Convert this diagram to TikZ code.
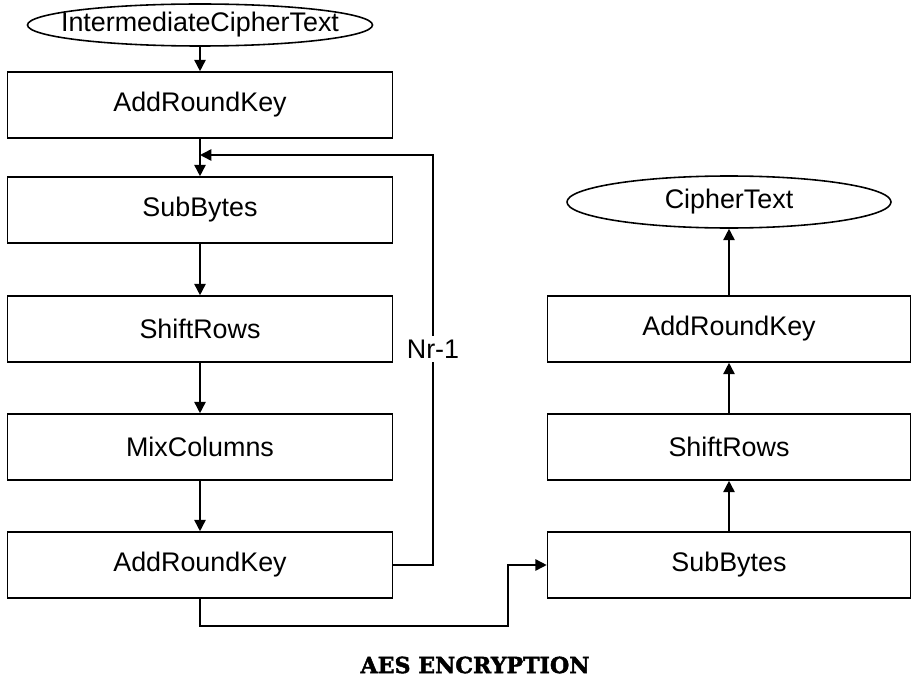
\documentclass[tikz,border=0pt]{standalone}
\usepackage{fontspec}
\setmainfont{Liberation Sans}
\newfontfamily\titlefont{DejaVu Serif Bold}[FakeBold=2]
\usetikzlibrary{arrows.meta,shapes.geometric}

\begin{document}
\begin{tikzpicture}[x=0.02cm,y=-0.02cm,line width=0.9pt,
  >={Triangle[length=6.5pt,width=6.5pt]},
  font=\fontsize{15.3}{18}\selectfont,
  lbox/.style={draw,rectangle,inner sep=0pt,minimum width=385*0.02cm,minimum height=66*0.02cm},
  rbox/.style={draw,rectangle,inner sep=0pt,minimum width=363*0.02cm,minimum height=66*0.02cm},
  term/.style={draw,ellipse,inner sep=0pt,minimum height=42*0.02cm}]
\useasboundingbox (0,0) rectangle (911,682);
% first round and the repeated rounds
\node[term,minimum width=345*0.02cm] (in) at (200,25) {\makebox[0pt]{IntermediateCipherText}};
\node[lbox] (ark0) at (200,105) {AddRoundKey};
\node[lbox] (sb) at (200,210) {SubBytes};
\node[lbox] (sr) at (200,329) {ShiftRows};
\node[lbox] (mc) at (200,447) {MixColumns};
\node[lbox] (ark) at (200,565) {AddRoundKey};
% final round
\node[rbox] (fsb) at (729,565) {SubBytes};
\node[rbox] (fsr) at (729,447) {ShiftRows};
\node[rbox] (fark) at (729,329) {AddRoundKey};
\node[term,minimum width=324*0.02cm,minimum height=52*0.02cm] (out) at (729,202) {\makebox[0pt]{CipherText}};
\coordinate (back) at (200,155);
\draw[->] (in) -- (ark0);
\draw[->] (ark0) -- (sb);
\draw[->] (sb) -- (sr);
\draw[->] (sr) -- (mc);
\draw[->] (mc) -- (ark);
\draw[->] (ark.east) -- (433,565) -- node[pos=0.527,fill=white,inner sep=2pt]{Nr-1} (433,155) -- (back);
\draw[->] (ark.south) -- (200,626) -- (508,626) -- (508,565) -- (fsb.west);
\draw[->] (fsb) -- (fsr);
\draw[->] (fsr) -- (fark);
\draw[->] (fark) -- (out);
\node (title) at (475,665) {\titlefont\fontsize{12.6}{14}\selectfont AES ENCRYPTION};
\end{tikzpicture}
\end{document}
